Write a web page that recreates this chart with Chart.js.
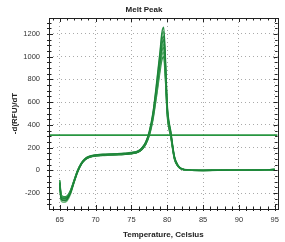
<!DOCTYPE html>
<html>
<head>
<meta charset="utf-8">
<script src="https://cdn.jsdelivr.net/npm/chart.js@4.4.1/dist/chart.umd.min.js"></script>
<style>
html,body{margin:0;padding:0;background:#fff;}
#wrap{width:285px;height:242px;position:relative;}
</style>
</head>
<body>
<div id="wrap"><canvas id="c" width="285" height="242"></canvas></div>
<script>
// ---- data ----
const temps = [65, 65.2, 65.6, 66, 66.5, 67, 67.5, 68, 68.5, 69, 70, 71, 72, 73, 74, 75, 76, 76.5, 77, 77.5, 78, 78.5, 79, 79.25, 79.5, 79.75, 80, 80.5, 81, 81.5, 82, 83, 85, 87, 90, 93, 95];
const well1 = [-110,-238,-248,-240,-190,-95,-5,60,98,120,135,140,143,145,148,155,172,200,250,345,505,760,1050,1210,1260,980,580,340,125,45,15,4,0,1,2,3,8];
const well2 = [-95,-222,-238,-232,-182,-90,0,62,100,118,133,138,141,143,146,152,170,196,245,338,495,745,1030,1180,1220,950,560,330,118,42,14,3,0,0,2,3,6];
const well3 = [-120,-255,-268,-258,-200,-102,-12,53,92,112,128,133,136,138,141,147,163,188,236,325,478,722,990,1140,1180,920,545,322,115,40,12,2,-1,0,1,2,5];
const well4 = [-100,-230,-242,-236,-184,-92,-4,58,95,115,130,135,138,140,143,150,165,190,235,320,470,700,960,1100,1150,900,540,320,112,40,13,3,0,1,2,3,7];
const well5 = [-130,-268,-282,-270,-210,-108,-16,50,90,110,126,131,134,137,140,146,162,186,230,312,458,680,930,1065,1110,870,525,310,108,38,12,2,-2,0,1,2,9];
const well6 = [-85,-215,-232,-226,-175,-86,2,64,102,121,136,141,144,146,150,157,174,199,246,330,480,705,950,1050,1080,845,510,305,106,37,12,3,0,1,2,4,6];
const well7 = [-105,-242,-256,-248,-194,-98,-8,56,94,114,129,134,137,139,142,148,164,188,232,314,456,672,905,1010,1040,815,495,298,102,36,11,2,-1,0,1,3,8];
const well8 = [-115,-248,-262,-254,-198,-100,-10,54,93,113,127,132,135,138,141,147,163,186,228,306,442,650,875,970,1000,790,480,290,100,35,11,2,-1,0,2,3,7];
const wells = [well1, well2, well3, well4, well5, well6, well7, well8];
const threshold = 310;
const xRange = [63.5, 95.4];
const yRange = [-340, 1340];
const xTicks = [65, 70, 75, 80, 85, 90, 95];
const yTicks = [-200, 0, 200, 400, 600, 800, 1000, 1200];
const xMinorStep = 1;
const yMinorStep = 50;

// ---- styles ----
const FONT = "'Liberation Sans Narrow', 'Liberation Sans', Arial, sans-serif";
const lineColors = ['rgba(22,130,52,0.9)','rgba(70,165,90,0.85)','rgba(25,120,50,0.9)','rgba(30,140,60,0.95)','rgba(80,170,95,0.85)','rgba(20,125,48,0.9)','rgba(60,155,80,0.85)','rgba(28,135,55,0.9)'];

const datasets = wells.map((w, i) => ({
  data: temps.map((t, k) => ({x: t, y: w[k]})),
  borderColor: lineColors[i],
  borderWidth: 1.4,
  pointRadius: 0,
  fill: false,
  cubicInterpolationMode: 'monotone'
}));
datasets.push({
  data: [{x: xRange[0], y: threshold}, {x: xRange[1], y: threshold}],
  borderColor: 'rgb(40,150,65)',
  borderWidth: 1.6,
  pointRadius: 0,
  fill: false
});

const framePlugin = {
  id: 'frame',
  afterDraw(chart) {
    const {ctx, chartArea: a, scales: {x, y}} = chart;
    ctx.save();
    ctx.strokeStyle = '#222';
    ctx.lineWidth = 1;
    ctx.strokeRect(Math.round(a.left) + 0.5, Math.round(a.top) + 0.5, Math.round(a.right - a.left), Math.round(a.bottom - a.top));
    ctx.beginPath();
    for (let v = Math.ceil(xRange[0]); v <= xRange[1]; v += xMinorStep) {
      const px = Math.round(x.getPixelForValue(v)) + 0.5;
      const len = xTicks.includes(v) ? 4 : 2.5;
      ctx.moveTo(px, a.bottom + 2); ctx.lineTo(px, a.bottom - len);
      ctx.moveTo(px, a.top); ctx.lineTo(px, a.top + len);
    }
    for (let v = Math.ceil(yRange[0] / yMinorStep) * yMinorStep; v <= yRange[1]; v += yMinorStep) {
      const py = Math.round(y.getPixelForValue(v)) + 0.5;
      const len = yTicks.includes(v) ? 4 : 2.5;
      ctx.moveTo(a.left - 2, py); ctx.lineTo(a.left + len, py);
      ctx.moveTo(a.right, py); ctx.lineTo(a.right - len, py);
    }
    ctx.stroke();
    ctx.restore();
  }
};

new Chart(document.getElementById('c'), {
  type: 'line',
  data: { datasets },
  options: {
    responsive: false,
    animation: false,
    layout: { padding: { left: 10, right: 7, top: 0, bottom: 2 } },
    plugins: {
      legend: { display: false },
      tooltip: { enabled: false },
      title: {
        display: true, text: 'Melt Peak', color: '#222',
        font: { family: FONT, size: 8, weight: 'bold', lineHeight: 1.25 },
        padding: { top: 5, bottom: 3 }
      }
    },
    scales: {
      x: {
        type: 'linear', min: xRange[0], max: xRange[1],
        afterBuildTicks: s => { s.ticks = xTicks.map(v => ({value: v})); },
        afterFit: s => { s.height = 31; },
        grid: { color: '#aaa', lineWidth: 1, drawTicks: false },
        border: { display: false, dash: [1, 3] },
        ticks: { color: '#333', padding: 6, maxRotation: 0, font: { family: FONT, size: 7.5 },
                 callback: v => String(v) },
        title: { display: true, text: 'Temperature, Celsius', color: '#222', padding: 0,
                 font: { family: FONT, size: 8, weight: 'bold', lineHeight: 1.25 } }
      },
      y: {
        type: 'linear', min: yRange[0], max: yRange[1],
        afterBuildTicks: s => { s.ticks = yTicks.map(v => ({value: v})); },
        afterFit: s => { s.width = 39; },
        grid: { color: '#aaa', lineWidth: 1, drawTicks: false },
        border: { display: false, dash: [1, 3] },
        ticks: { color: '#333', padding: 9, font: { family: FONT, size: 7.5 },
                 callback: v => String(v) },
        title: { display: true, text: '-d(RFU)/dT', color: '#222', padding: 0,
                 font: { family: FONT, size: 8, weight: 'bold', lineHeight: 1.25 } }
      }
    }
  },
  plugins: [framePlugin]
});
</script>
</body>
</html>
